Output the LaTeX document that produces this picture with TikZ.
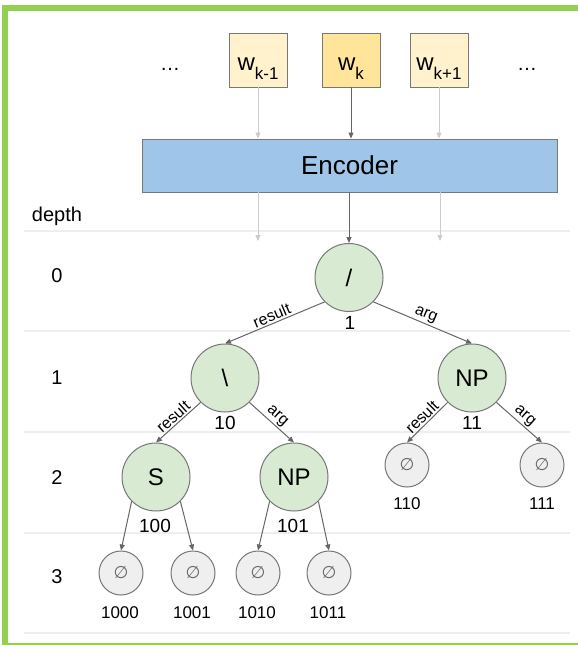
\documentclass[tikz,border=0pt]{standalone}
\usepackage{fontspec}
\setmainfont{Liberation Sans}
\newfontfamily\symfont{DejaVu Sans}
\usetikzlibrary{arrows.meta}
\definecolor{frameg}{HTML}{92D050}
\definecolor{nodeg}{HTML}{D9EAD3}
\definecolor{nodegray}{HTML}{EFEFEF}
\definecolor{encblue}{HTML}{9FC5E8}
\definecolor{wlight}{HTML}{FFF2CC}
\definecolor{wdark}{HTML}{FFE599}
\definecolor{edgegray}{HTML}{666666}
\definecolor{bordergray}{HTML}{777777}
\definecolor{lightarrow}{HTML}{CCCCCC}
\definecolor{sepline}{HTML}{EEEEEE}
\newcommand{\fsz}[1]{\fontsize{#1}{#1}\selectfont}
\begin{document}
\begin{tikzpicture}[x=1pt,y=-1pt,
  wbox/.style={draw=bordergray, line width=0.9pt, minimum width=58pt, minimum height=54pt, inner sep=0pt},
  wtext/.style={anchor=base, inner sep=0pt},
  bigc/.style={circle, draw=bordergray, line width=1pt, fill=nodeg, minimum size=68pt, inner sep=0pt, font=\fsz{24}},
  smallc/.style={circle, draw=bordergray, line width=1pt, fill=nodegray, minimum size=44pt, inner sep=0pt, font=\symfont\fsz{17}, text=edgegray},
  numlab/.style={inner sep=0pt, font=\fsz{19}},
  leaflab/.style={inner sep=0pt, font=\fsz{17}},
  depthlab/.style={inner sep=0pt, font=\fsz{20}},
  edgelab/.style={inner sep=1.5pt, font=\fsz{16}, sloped, above, midway},
  darr/.style={draw=edgegray, line width=1pt, -{Triangle[length=6pt,width=5pt]}},
  larr/.style={draw=lightarrow, line width=1pt, -{Triangle[length=6pt,width=5pt]}},
  sep/.style={draw=sepline, line width=1.5pt}
]
\useasboundingbox (0,0) rectangle (578,645);
\clip (0,0) rectangle (578,645);
\fill[white] (0,0) rectangle (578,645);
\draw[frameg, line width=6pt] (5,8) rectangle (584,646);

% separators
\draw[sep] (24,231) -- (570,231);
\draw[sep] (24,331) -- (570,331);
\draw[sep] (24,432) -- (570,432);
\draw[sep] (24,533) -- (570,533);
\draw[sep] (24,633) -- (570,633);

% input words
\node[wbox, fill=wlight] (wkm1) at (258,60) {};
\node[wbox, fill=wdark] (wk) at (351,60) {};
\node[wbox, fill=wlight] (wkp1) at (439,60) {};
\node[wtext] (twkm1) at (258,70) {\fsz{24}w\raisebox{-9.5pt}{\fsz{17}k-1}};
\node[wtext] (twk) at (351,70) {\fsz{24}w\raisebox{-9.5pt}{\fsz{17}k}};
\node[wtext] (twkp1) at (439,70) {\fsz{24}w\raisebox{-9.5pt}{\fsz{17}k+1}};
\node[wtext] (dotsl) at (170,70) {\fsz{20}…};
\node[wtext] (dotsr) at (527,70) {\fsz{20}…};

% encoder
\node[draw=bordergray, line width=0.9pt, fill=encblue, minimum width=415pt, minimum height=53pt, inner sep=0pt, font=\fsz{26}] (enc) at (349.5,165.5) {Encoder};

\draw[larr] (wkm1.south) -- (wkm1 |- enc.north);
\draw[darr] (wk.south) -- (wk |- enc.north);
\draw[larr] (wkp1.south) -- (wkp1 |- enc.north);

% depth labels
\node[inner sep=0pt, font=\fsz{20}, anchor=base] (depth) at (57,221) {depth};
\node[depthlab] (d0) at (57,276) {0};
\node[depthlab] (d1) at (57,378) {1};
\node[depthlab] (d2) at (57,478) {2};
\node[depthlab] (d3) at (57,577) {3};

% tree nodes
\node[bigc] (root) at (349,277.5) {/};
\node[bigc] (n10) at (225,378) {\textbackslash};
\node[bigc] (n11) at (472,378) {NP};
\node[bigc] (n100) at (156,477) {S};
\node[bigc] (n101) at (294,477) {NP};
\node[smallc] (n110) at (407,465) {∅};
\node[smallc] (n111) at (542,465) {∅};
\node[smallc] (n1000) at (121,573) {∅};
\node[smallc] (n1001) at (193,573) {∅};
\node[smallc] (n1010) at (258,573) {∅};
\node[smallc] (n1011) at (329,573) {∅};

% encoder outputs
\coordinate (oa) at (258,241);
\coordinate (ob) at (440,241);
\draw[larr] (oa |- enc.south) -- (oa);
\draw[larr] (ob |- enc.south) -- (ob);
\draw[darr] (root |- enc.south) -- (root.north);

% node numbers
\node[numlab] (l1) at (350,322.5) {1};
\node[numlab] (l10) at (225,422.5) {10};
\node[numlab] (l11) at (472,422.5) {11};
\node[numlab] (l100) at (155,525.5) {100};
\node[numlab] (l101) at (293,525.5) {101};
\node[leaflab] (l110) at (407,503.5) {110};
\node[leaflab] (l111) at (542,503.5) {111};
\node[leaflab] (l1000) at (120,613) {1000};
\node[leaflab] (l1001) at (192,613) {1001};
\node[leaflab] (l1010) at (257,613) {1010};
\node[leaflab] (l1011) at (328,613) {1011};

% edges
\draw[darr] (root.-135) -- node[edgelab] {result} (n10.north);
\draw[darr] (root.-45) -- node[edgelab] {arg} (n11.north);
\draw[darr] (n10.-135) -- node[edgelab] {result} (n100.north);
\draw[darr] (n10.-45) -- node[edgelab] {arg} (n101.north);
\draw[darr] (n11.-135) -- node[edgelab] {result} (n110.north);
\draw[darr] (n11.-45) -- node[edgelab] {arg} (n111.north);
\draw[darr] (n100.-135) -- (n1000.north);
\draw[darr] (n100.-45) -- (n1001.north);
\draw[darr] (n101.-135) -- (n1010.north);
\draw[darr] (n101.-45) -- (n1011.north);
\end{tikzpicture}
\end{document}
